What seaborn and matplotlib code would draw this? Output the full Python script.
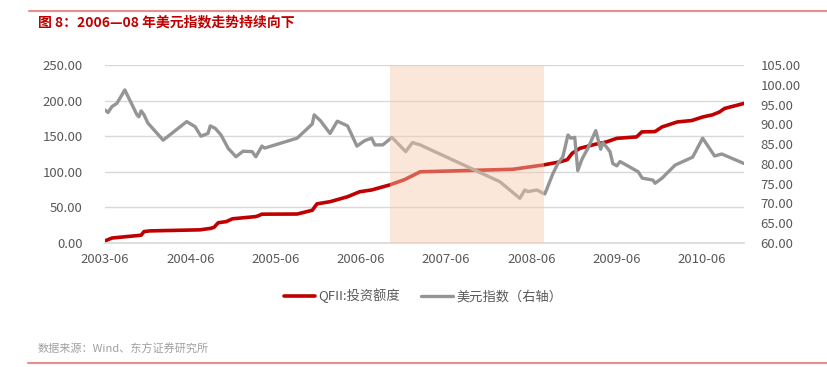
import matplotlib
matplotlib.use("Agg")
import matplotlib.pyplot as plt
import matplotlib.dates as mdates
from matplotlib.lines import Line2D
import seaborn as sns
import pandas as pd

# ---------------- data ----------------
qfii_dates = ["2003-06-01", "2003-07-01", "2003-10-20", "2003-11-03", "2003-11-15", "2003-12-10",
              "2004-07-12", "2004-08-25", "2004-09-10", "2004-09-28", "2004-11-01", "2004-11-28",
              "2005-03-05", "2005-03-17", "2005-04-03", "2005-09-01", "2005-11-05", "2005-11-25",
              "2006-01-20", "2006-04-05", "2006-05-27", "2006-07-17", "2006-10-02", "2006-12-05",
              "2007-02-10", "2008-03-12", "2008-07-20", "2008-10-01", "2008-11-01", "2008-11-22",
              "2008-12-25", "2009-02-28", "2009-04-18", "2009-06-01", "2009-08-25", "2009-09-16",
              "2009-11-12", "2009-12-12", "2010-02-15", "2010-04-18", "2010-06-04", "2010-07-16",
              "2010-08-15", "2010-09-06", "2010-11-28"]
qfii_values = [3, 7, 10.5, 11, 16, 17,
               18.5, 20.5, 22, 28.5, 30, 34,
               37, 38, 40.5, 40.7, 46, 55,
               58, 65, 72, 74.5, 81.5, 89,
               100, 103.5, 109.5, 114, 117, 126,
               133, 138.6, 142, 147, 149, 156,
               156.5, 163, 170, 172, 177, 180,
               184, 189, 196]

usd_dates = ["2003-06-01", "2003-06-14", "2003-07-01", "2003-07-22", "2003-08-25", "2003-10-16",
             "2003-10-24", "2003-11-03", "2003-11-15", "2003-12-02", "2004-02-05", "2004-05-16",
             "2004-06-21", "2004-07-16", "2004-08-15", "2004-08-25", "2004-09-15", "2004-10-10",
             "2004-11-10", "2004-12-13", "2005-01-12", "2005-02-20", "2005-03-08", "2005-04-03",
             "2005-04-15", "2005-09-01", "2005-11-05", "2005-11-13", "2005-12-10", "2006-01-20",
             "2006-02-20", "2006-04-05", "2006-05-15", "2006-06-18", "2006-07-17", "2006-07-31",
             "2006-09-03", "2006-10-12", "2006-12-10", "2007-01-08", "2007-02-10", "2008-01-17",
             "2008-04-12", "2008-05-03", "2008-05-16", "2008-06-24", "2008-07-20", "2008-07-28",
             "2008-09-01", "2008-09-22", "2008-10-13", "2008-11-04", "2008-11-16", "2008-12-03",
             "2008-12-16", "2009-01-03", "2009-01-28", "2009-03-03", "2009-03-24", "2009-04-03",
             "2009-05-03", "2009-05-15", "2009-06-01", "2009-06-15", "2009-09-01", "2009-09-18",
             "2009-11-03", "2009-11-12", "2009-12-12", "2010-02-06", "2010-04-22", "2010-06-04",
             "2010-07-25", "2010-08-25", "2010-11-28"]
usd_values = [93.6, 93.0, 94.5, 95.3, 98.7, 92.4,
              91.9, 93.4, 92.4, 90.3, 86.0, 90.7,
              89.4, 87.0, 87.7, 89.6, 89.0, 87.3,
              83.9, 81.8, 83.2, 83.1, 81.8, 84.5,
              84.0, 86.5, 90.1, 92.4, 90.9, 87.7,
              90.8, 89.6, 84.5, 85.9, 86.5, 84.8,
              84.8, 86.7, 83.1, 85.4, 84.8, 75.5,
              71.3, 73.4, 73.0, 73.4, 72.6, 72.4,
              77.6, 80.1, 81.8, 87.3, 86.5, 86.7,
              78.3, 81.2, 83.9, 88.4, 83.7, 85.4,
              83.1, 80.1, 79.5, 80.6, 78.0, 76.4,
              75.9, 75.1, 76.4, 79.7, 81.7, 86.5,
              82.0, 82.5, 80.1]

span_dates = ["2006-10-02", "2008-07-25"]
x_ticks = ["2003-06-01", "2004-06-01", "2005-06-01", "2006-06-01", "2007-06-01",
           "2008-06-01", "2009-06-01", "2010-06-01"]
left_ticks = [0, 50, 100, 150, 200, 250]
right_ticks = [60, 65, 70, 75, 80, 85, 90, 95, 100, 105]
x_range = ["2003-06-01", "2010-11-28"]

title = "图 8：2006—08 年美元指数走势持续向下"
source = "数据来源：Wind、东方证券研究所"
label_qfii = "QFII:投资额度"
label_usd = "美元指数（右轴）"

# ---------------- style ----------------
sns.set_theme(style="white")
plt.rcParams["font.family"] = ["Noto Sans CJK SC", "DejaVu Sans"]

RED = "#C00000"
GRAY = "#959595"
TXT = "#595959"
GRID = "#D9D9D9"

df_q = pd.DataFrame({"date": pd.to_datetime(qfii_dates), "value": qfii_values})
df_u = pd.DataFrame({"date": pd.to_datetime(usd_dates), "value": usd_values})

fig = plt.figure(figsize=(8.28, 3.67), dpi=100)
ax = fig.add_axes([105 / 828, 1 - 243 / 367, (744 - 105) / 828, (243 - 65) / 367])
ax2 = ax.twinx()

sns.lineplot(data=df_q, x="date", y="value", ax=ax, color=RED, linewidth=2.6, legend=False)
sns.lineplot(data=df_u, x="date", y="value", ax=ax2, color=GRAY, linewidth=2.4, legend=False)

ax2.axvspan(pd.Timestamp(span_dates[0]), pd.Timestamp(span_dates[1]),
            color="#F8CBAD", alpha=0.45, zorder=10, linewidth=0)

ax.set_xlim(pd.Timestamp(x_range[0]), pd.Timestamp(x_range[1]))
ax.set_ylim(left_ticks[0], left_ticks[-1])
ax2.set_ylim(right_ticks[0], right_ticks[-1])
ax.set_yticks(left_ticks)
ax.set_yticklabels([f"{v:.2f}" for v in left_ticks])
ax2.set_yticks(right_ticks)
ax2.set_yticklabels([f"{v:.2f}" for v in right_ticks])
ax.set_xticks(pd.to_datetime(x_ticks))
ax.xaxis.set_major_formatter(mdates.DateFormatter("%Y-%m"))

ax.grid(axis="y", color=GRID, linewidth=1)
ax.set_axisbelow(True)
for a in (ax, ax2):
    a.set_xlabel("")
    a.set_ylabel("")
    for s in ("left", "right", "top", "bottom"):
        a.spines[s].set_visible(False)
ax.spines["bottom"].set_visible(True)
ax.spines["bottom"].set_color(GRID)

ax.tick_params(axis="x", colors=TXT, labelsize=9.5, length=4, width=1, color=GRID, pad=3)
ax.tick_params(axis="y", colors=TXT, labelsize=9.5, length=0, pad=16)
ax2.tick_params(axis="y", colors=TXT, labelsize=9.5, length=0, pad=12)

# title & rules
fig.add_artist(Line2D([29 / 828, 1], [1 - 11 / 367, 1 - 11 / 367], color="#E88E8E", linewidth=1.5))
fig.add_artist(Line2D([28 / 828, 1], [1 - 363 / 367, 1 - 363 / 367], color="#E88E8E", linewidth=1.5))
fig.text(38 / 828, 1 - 22 / 367, title, color=RED, fontsize=10, fontweight="bold",
         va="center", ha="left")
fig.text(38 / 828, 1 - 349 / 367, source, color="#A0A0A0", fontsize=8, va="center", ha="left")

handles = [Line2D([], [], color=RED, linewidth=2.6), Line2D([], [], color=GRAY, linewidth=2.4)]
leg = fig.legend(handles, [label_qfii, label_usd], loc="center", ncol=2,
                 bbox_to_anchor=(423 / 828, 1 - 296 / 367), frameon=False,
                 fontsize=9.5, handlelength=2.4, handletextpad=0.25, columnspacing=1.6)
for t in leg.get_texts():
    t.set_color(TXT)

fig.savefig("out.png", dpi=100)
